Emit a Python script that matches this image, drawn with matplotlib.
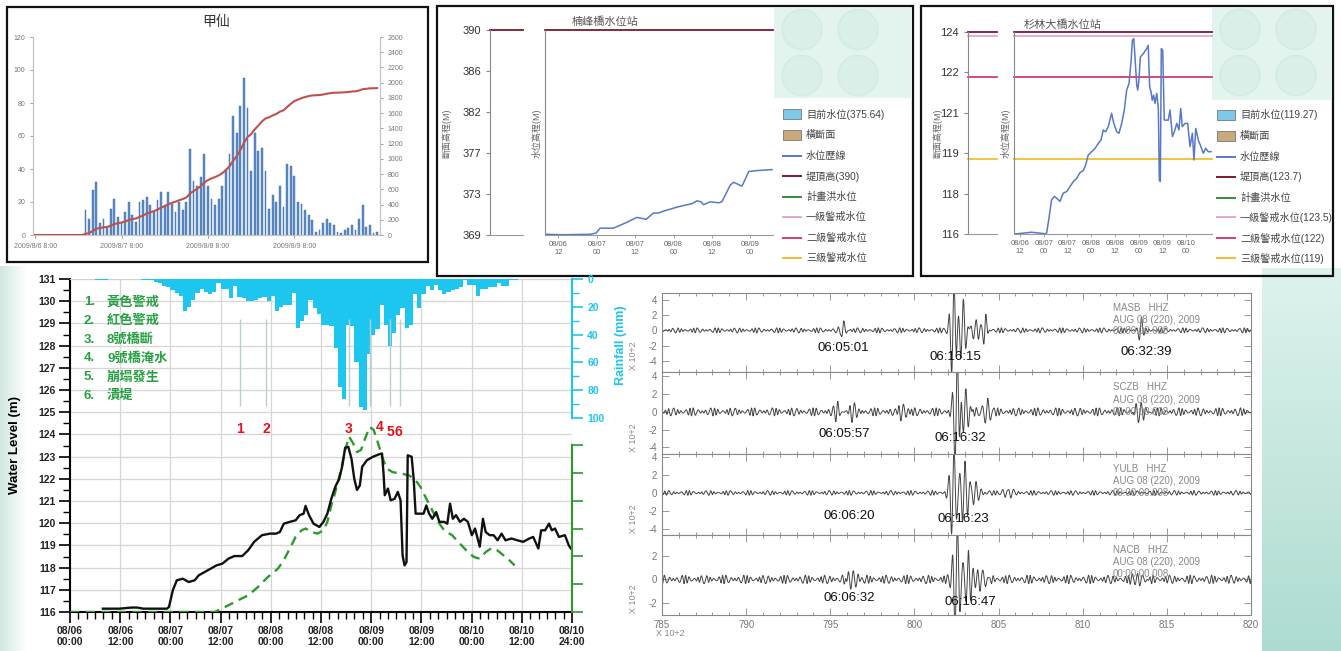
import numpy as np
import matplotlib
matplotlib.use('Agg')
import matplotlib.pyplot as plt
from matplotlib.patches import Rectangle, Circle
from matplotlib.ticker import MultipleLocator, FixedLocator

plt.rcParams['font.family'] = ['Liberation Sans', 'Noto Sans CJK TC', 'DejaVu Sans']
plt.rcParams['axes.unicode_minus'] = False

# ---------------- DATA ----------------
# Panel A: 甲仙 hourly rainfall (mm), hours from 2009/8/6 8:00
jiaxian_rain = [0, 0, 0, 0, 0, 0, 0, 0, 0, 0, 0, 0, 0, 0,
                15, 10, 27, 32, 7, 10, 5, 16, 22, 11,
                8, 14, 20, 12, 8, 20, 21, 23, 18, 14,
                21, 26, 18, 26, 19, 14, 20, 15, 20, 52,
                33, 30, 35, 49, 30, 22, 18, 22, 30, 40,
                49, 72, 62, 78, 95, 77, 39, 62, 51, 53,
                39, 16, 24, 20, 30, 17, 43, 42, 36, 20,
                19, 15, 12, 9, 2, 3, 7, 10, 7, 6,
                2, 1, 3, 4, 6, 3, 10, 18, 5, 6, 1, 2]
jiaxian_tick_pos = [0, 24, 48, 72]
jiaxian_tick_labels = ['2009/8/6 8:00', '2009/8/7 8:00', '2009/8/8 8:00', '2009/8/9 8:00']

# Panel B: 楠峰橋水位站 (hours from 08/06 00:00)
nanfeng_h = [7.8, 13.6, 21.9, 23.8, 25.0, 29.2, 31.3, 33.4, 36.5, 38.1, 39.4, 41.7, 43.3, 44.9,
             47.0, 49.0, 52.2, 53.7, 55.3, 56.6, 57.4, 59.5, 62.1, 63.1, 64.2, 65.7, 66.8, 67.8,
             69.4, 70.4, 71.5, 74.1, 78.8]
nanfeng_lv = [369.07, 369.03, 369.07, 369.2, 369.7, 369.7, 370.0, 370.3, 370.8, 370.7, 370.6,
              371.25, 371.25, 371.45, 371.65, 371.85, 372.1, 372.2, 372.5, 372.4, 372.1, 372.4,
              372.3, 372.4, 373.1, 374.1, 374.4, 374.25, 374.0, 374.7, 375.5, 375.6, 375.7]
nanfeng_ylabels = ['369', '373', '377', '382', '386', '390']
nanfeng_dike = 390.0
nanfeng_legend = [('目前水位(375.64)', 'patch', '#7ec8ea'), ('橫斷面', 'patch', '#c9a97c'),
                  ('水位歷線', 'line', '#5a78c8'), ('堤頂高(390)', 'line', '#7a1a2a'),
                  ('計畫洪水位', 'line', '#3a8a3a'), ('一級警戒水位', 'line', '#e4a6d6'),
                  ('二級警戒水位', 'line', '#d63c6a'), ('三級警戒水位', 'line', '#f0c030')]

# Panel C: 杉林大橋水位站
shanlin_h = [9.5, 17.9, 24.7, 25.5, 26.8, 28.0, 29.4, 31.1, 32.2, 33.9,
             35.6, 37.3, 39.0, 40.7, 42.3, 44.0, 45.2, 46.5, 48.2, 49.9,
             51.6, 52.9, 54.1, 55.3, 56.6, 58.3, 59.4, 60.9, 62.0, 63.4,
             64.7, 65.9, 67.1, 68.1, 68.8, 69.5, 70.1, 71.0, 71.5, 72.1,
             72.8, 74.3, 76.0, 76.8, 77.5, 78.2, 78.8, 79.5, 80.2, 81.1,
             81.9, 82.4, 82.9, 83.4, 84.1, 84.9, 86.1, 86.9, 87.8, 89.0,
             90.0, 91.2, 92.3, 93.2, 94.0, 95.4, 96.7, 97.9, 99.1, 99.9,
             100.8, 102.1, 103.4, 104.6, 105.8, 107.1, 108.5]
shanlin_lv = [116.0, 116.07, 116.01, 116.04, 116.70, 117.36, 117.49, 117.38, 117.29, 117.62,
              117.68, 117.88, 118.08, 118.21, 118.43, 118.51, 118.74, 119.13, 119.26, 119.39,
              119.59, 119.72, 120.12, 120.05, 120.25, 120.78, 120.38, 120.05, 119.99, 120.38,
              120.91, 121.70, 121.96, 122.82, 123.67, 123.74, 123.01, 121.89, 121.70, 122.09,
              123.01, 123.14, 123.34, 123.47, 121.83, 121.63, 121.30, 121.50, 121.17, 121.57,
              120.97, 118.14, 118.08, 123.34, 123.28, 120.51, 120.51, 120.51, 120.91, 119.86,
              120.05, 120.38, 120.12, 120.97, 120.25, 120.38, 120.38, 119.46, 119.99, 118.93,
              120.18, 119.72, 119.46, 119.20, 119.39, 119.26, 119.26]
shanlin_ylabels = ['116', '118', '119', '121', '122', '124']
shanlin_levels = [124.0, 123.83, 122.2, 118.99]
shanlin_level_colors = ['#7a1a2a', '#e4a6d6', '#d63c6a', '#f0c030']
shanlin_legend = [('目前水位(119.27)', 'patch', '#7ec8ea'), ('橫斷面', 'patch', '#c9a97c'),
                  ('水位歷線', 'line', '#5a78c8'), ('堤頂高(123.7)', 'line', '#7a1a2a'),
                  ('計畫洪水位', 'line', '#3a8a3a'), ('一級警戒水位(123.5)', 'line', '#e4a6d6'),
                  ('二級警戒水位(122)', 'line', '#d63c6a'), ('三級警戒水位(119)', 'line', '#f0c030')]

station_ticks = [12, 24, 36, 48, 60, 72, 84, 96]
station_ticklabels = ['08/06\n12', '08/07\n00', '08/07\n12', '08/08\n00', '08/08\n12',
                      '08/09\n00', '08/09\n12', '08/10\n00']

# Panel D: water level (m) hours from 08/06 00:00
obs_h = [7.86, 11.83, 14.67, 16.09, 17.51, 23.19, 23.66, 24.61, 25.55, 26.97,
         28.39, 29.81, 30.76, 32.18, 33.6, 35.02, 36.44, 37.86, 39.28, 41.17,
         42.59, 44.01, 45.9, 47.79, 49.21, 50.16, 51.11, 52.53, 53.94, 54.89,
         55.84, 56.31, 57.07, 58.2, 59.62, 60.57, 61.52, 62.46, 63.41, 64.36,
         65.11, 65.77, 66.53, 67.29, 67.95, 68.61, 69.28, 69.84, 70.98, 72.4,
         73.82, 74.58, 74.95, 75.24, 76.0, 76.66, 77.6, 78.36, 79.02, 79.5,
         79.97, 80.44, 80.73, 81.67, 82.15, 82.62, 83.76, 84.51, 85.18, 85.84,
         86.6, 87.54, 88.3, 89.43, 90.19, 90.85, 91.52, 92.27, 93.22, 94.17,
         95.11, 96.06, 96.82, 97.95, 98.71, 99.37, 100.32, 101.26, 102.21, 103.16,
         104.1, 105.52, 106.94, 108.36, 109.78, 110.73, 111.96, 112.62, 113.57, 114.51,
         115.18, 115.93, 116.88, 118.3, 119.24, 119.72]
obs_lv = [116.15, 116.15, 116.2, 116.2, 116.15, 116.15, 116.23, 117.0, 117.43, 117.5,
          117.35, 117.43, 117.65, 117.8, 117.95, 118.1, 118.18, 118.4, 118.52, 118.52,
          118.78, 119.16, 119.46, 119.53, 119.53, 119.6, 119.98, 120.06, 120.13, 120.36,
          120.43, 120.78, 120.39, 119.98, 119.83, 120.06, 120.43, 121.1, 121.64, 122.0,
          122.6, 123.4, 123.44, 122.9, 122.0, 121.5, 121.7, 122.54, 122.84, 122.99,
          123.1, 123.14, 122.24, 121.26, 121.56, 121.03, 121.1, 121.41, 121.03, 118.55,
          118.1, 118.25, 123.06, 122.99, 122.0, 120.43, 120.43, 120.43, 120.8, 120.43,
          120.2, 120.5, 120.06, 120.06, 119.98, 120.88, 120.2, 120.36, 120.06, 120.2,
          120.06, 119.46, 119.76, 118.94, 120.2, 119.6, 119.46, 119.46, 119.23, 119.53,
          119.23, 119.31, 119.23, 119.16, 119.31, 119.38, 118.86, 119.68, 119.68, 119.98,
          119.68, 119.76, 119.38, 119.46, 119.0, 118.86]
sim_h = [0, 34.54, 35.49, 37.86, 40.22, 42.59, 44.95, 47.32, 49.69, 51.11,
         52.53, 53.94, 55.36, 56.31, 57.73, 59.15, 60.57, 61.52, 62.46, 63.41,
         64.64, 65.77, 66.72, 67.67, 68.61, 69.56, 70.51, 71.64, 72.59, 73.54,
         74.48, 75.71, 77.13, 79.02, 80.92, 82.34, 83.76, 85.18, 86.6, 88.02,
         89.43, 91.33, 93.22, 95.11, 96.53, 97.95, 99.37, 100.79, 102.21, 103.63,
         105.05, 106.28]
sim_lv = [116.0, 116.0, 116.08, 116.3, 116.53, 116.75, 117.13, 117.58, 117.95, 118.33,
          118.86, 119.38, 119.68, 119.76, 119.6, 119.53, 119.68, 120.06, 120.8, 121.4,
          122.3, 123.3, 123.9, 123.6, 123.2, 123.3, 123.8, 124.34, 124.2, 123.67,
          123.06, 122.46, 122.3, 122.24, 122.16, 122.0, 121.64, 121.1, 120.58, 120.06,
          119.68, 119.46, 119.08, 118.7, 118.48, 118.4, 118.7, 118.88, 118.77, 118.55,
          118.33, 118.1]
# hourly rainfall (mm), hour 0 .. 106
hourly_rain = [0, 0, 0, 0, 0, 0, 1, 1, 1, 0, 0, 0, 0, 0, 0, 0, 0, 1, 1, 1, 2, 3, 5, 6,
               8, 10, 12, 23, 20, 15, 10, 7, 9, 11, 9, 3, 7, 7, 14, 5, 13, 14, 16, 16,
               15, 14, 13, 16, 12, 23, 20, 19, 19, 10, 35, 30, 26, 15, 21, 25, 33, 33, 34, 50,
               78, 86, 33, 34, 60, 92, 94, 54, 40, 36, 19, 33, 48, 39, 26, 21, 35, 33, 11, 21,
               11, 5, 8, 4, 8, 11, 9, 8, 7, 6, 1, 4, 4, 12, 7, 7, 6, 6, 3, 5, 5, 1, 1]
event_h = [40.7, 46.8, 66.8, 71.8, 76.5, 79.0]
event_label_h = [40.6, 46.9, 66.7, 73.9, 76.6, 78.6]
event_labels = ['1', '2', '3', '4', '5', '6']
event_names = ['黃色警戒', '紅色警戒', '8號橋斷', '9號橋淹水', '崩塌發生', '潰堤']
d_ticklabels = ['08/06\n00:00', '08/06\n12:00', '08/07\n00:00', '08/07\n12:00', '08/08\n00:00',
                '08/08\n12:00', '08/09\n00:00', '08/09\n12:00', '08/10\n00:00', '08/10\n12:00',
                '08/10\n24:00']

# Panel E: seismograms (x in units of 10^2 s)
seis_names = ['MASB', 'SCZB', 'YULB', 'NACB']
seis_ylim = [(-5.5, 5.0), (-4.7, 4.5), (-4.7, 4.4), (-3.0, 3.75)]
seis_yticks = [[-4, -2, 0, 2, 4], [-4, -2, 0, 2, 4], [-4, -2, 0, 2, 4], [-2, 0, 2]]
seis_noise = [0.28, 0.38, 0.22, 0.3]
# wave packets: (center, amplitude, half-width)
seis_packets = [
    [(795.75, 1.4, 0.18), (802.3, 7.0, 0.22), (802.85, 4.5, 0.25), (803.6, 1.4, 0.3),
     (804.2, 2.2, 0.14), (813.45, 1.7, 0.15)],
    [(795.4, 0.9, 0.25), (796.4, 1.3, 0.22), (799.3, 0.9, 0.3), (802.5, 7.0, 0.22),
     (803.0, 2.8, 0.3), (804.3, 1.6, 0.25), (813.4, 0.9, 0.4)],
    [(802.3, 5.5, 0.25), (802.95, 3.5, 0.3), (803.6, 1.2, 0.35), (805.5, 0.5, 0.4)],
    [(796.3, 0.8, 0.4), (802.5, 5.0, 0.25), (803.15, 2.2, 0.35), (804.0, 1.0, 0.45),
     (813.5, 0.5, 0.5)],
]
seis_picks = [
    [(795.8, -2.3, '06:05:01'), (802.45, -3.5, '06:16:15'), (813.75, -2.8, '06:32:39')],
    [(795.85, -2.5, '06:05:57'), (802.75, -3.0, '06:16:32')],
    [(796.1, -2.6, '06:06:20'), (802.9, -2.9, '06:16:23')],
    [(796.1, -1.6, '06:06:32'), (803.3, -1.9, '06:16:47')],
]

# ---------------- FIGURE ----------------
W, H = 1341, 651
fig = plt.figure(figsize=(W / 100, H / 100), dpi=100)


def ax_px(x0, y0, x1, y1):
    return fig.add_axes([x0 / W, 1 - y1 / H, (x1 - x0) / W, (y1 - y0) / H])


def ftext(x, y, s, **kw):
    return fig.text(x / W, 1 - y / H, s, **kw)


# background
bg = ax_px(0, 0, W, H)
bg.set_zorder(-10)
bg.set_axis_off()
img = np.ones((H, W, 3))
yy, xx = np.mgrid[0:H, 0:W]
m = (xx >= 1262) & (yy >= 268)
f = np.clip((yy[m] - 268) / 383.0, 0, 1)[:, None]
top_c = np.array([0.87, 0.95, 0.93])
bot_c = np.array([0.68, 0.86, 0.82])
img[m] = top_c * (1 - f) + bot_c * f
m2 = (xx < 26) & (yy >= 266)
g = (xx[m2] / 26.0)[:, None]
img[m2] = np.array([0.82, 0.91, 0.88]) * (1 - g) + g
bg.imshow(img, extent=(0, W, H, 0), aspect='auto', interpolation='bilinear')
bg.set_xlim(0, W)
bg.set_ylim(H, 0)
bg.set_autoscale_on(False)

# frames
for (x0, y0, x1, y1) in [(7, 7, 428, 262), (437, 6, 913, 276), (921, 6, 1333, 276)]:
    bg.add_patch(Rectangle((x0, y0), x1 - x0, y1 - y0, fill=False, ec='#111', lw=1.6))
# mint boxes
for (x0, y0, x1, y1) in [(774, 7.5, 912, 98), (1212, 7.5, 1332, 100)]:
    bg.add_patch(Rectangle((x0, y0), x1 - x0, y1 - y0, fc='#e3f4ee', ec='none'))
    for cx in np.arange(x0 + 28, x1, 56):
        for cy in [y0 + 22, y0 + 68]:
            bg.add_patch(Circle((cx, cy), 20, fc='#d9efe7', ec='#d2ebe2', lw=1))


def draw_legend(x0, rows_y, items):
    for (label, kind, color), y in zip(items, rows_y):
        if kind == 'patch':
            bg.add_patch(Rectangle((x0, y - 5), 18, 10, fc=color, ec='#777', lw=0.6))
        else:
            bg.plot([x0, x0 + 18], [y, y], color=color, lw=1.4)
        bg.text(x0 + 23, y, label, fontsize=7.3, color='#444', va='center', ha='left')


draw_legend(783, [114, 135, 156, 176, 197, 217, 238, 258], nanfeng_legend)
draw_legend(1217, [115, 136, 157, 177, 198, 217, 238, 258], shanlin_legend)

# ---------------- Panel A ----------------
axA = ax_px(33, 37, 380, 235)
xA = np.arange(len(jiaxian_rain))
axA.bar(xA, jiaxian_rain, width=0.5, color='#5b8ccb', edgecolor='#3d6aa3', linewidth=0.3, zorder=2)
axA.set_yticks(np.arange(0, 121, 20))
axA.set_xticks(jiaxian_tick_pos)
axA.set_xticklabels(jiaxian_tick_labels)
axA.set_xlim(-0.6, 95.8)
axA.set_ylim(0, 120)
axA.spines['top'].set_visible(False)
for s in ['left', 'bottom', 'right']:
    axA.spines[s].set_color('#c4c4c4')
axA.tick_params(labelsize=5, colors='#777', length=2, width=0.5)
axA2 = axA.twinx()
axA2.plot(xA, np.cumsum(jiaxian_rain), color='#c0504d', lw=1.5, zorder=3)
axA2.set_ylim(0, 2600)
axA2.set_yticks(np.arange(0, 2601, 200))
axA2.tick_params(labelsize=5, colors='#777', length=2, width=0.5)
axA2.spines['top'].set_visible(False)
for s in ['left', 'bottom', 'right']:
    axA2.spines[s].set_color('#c4c4c4')
ftext(216, 22, '甲仙', fontsize=10, ha='center', va='center', color='#333')


# ---------------- Panels B, C ----------------
def station_left(box, ylim, labels, hl, hl_colors):
    a = ax_px(*box)
    a.set_yticks(np.linspace(ylim[0], ylim[1], 6))
    a.set_yticklabels(labels)
    a.set_xticks([])
    a.set_ylim(*ylim)
    a.set_xlim(0, 1)
    for s in ['top', 'right']:
        a.spines[s].set_visible(False)
    a.spines['left'].set_color('#888')
    a.spines['bottom'].set_color('#999')
    a.tick_params(axis='y', labelsize=8, colors='#888', labelcolor='#333', length=3, width=0.8)
    for v, c in zip(hl, hl_colors):
        a.axhline(v, color=c, lw=1.3, clip_on=False)
    a.patch.set_alpha(0)
    return a


def station_main(box, ylim, xlim, t, v, hl, hl_colors):
    a = ax_px(*box)
    a.set_yticks([])
    a.set_xticks(station_ticks)
    a.set_xticklabels(station_ticklabels)
    for s in ['top', 'right']:
        a.spines[s].set_visible(False)
    a.spines['left'].set_color('#888')
    a.spines['bottom'].set_color('#999')
    a.tick_params(axis='x', labelsize=5.5, colors='#999', labelcolor='#666', length=2, width=0.6, pad=2)
    for lv, c in zip(hl, hl_colors):
        a.axhline(lv, color=c, lw=1.3, clip_on=False)
    a.plot(t, v, color='#5a78c8', lw=1.1)
    a.set_ylim(*ylim)
    a.set_xlim(*xlim)
    a.patch.set_alpha(0)
    return a


station_left((490, 30, 523, 235), (369, 390), nanfeng_ylabels, [nanfeng_dike], ['#7a1a2a'])
station_main((545, 30, 773, 235), (369, 390), (7.8, 79.1), nanfeng_h, nanfeng_lv,
             [nanfeng_dike], ['#7a1a2a'])
ftext(446, 133, '斷面高程(M)', rotation=90, fontsize=6.5, color='#666', ha='center', va='center')
ftext(537, 133, '水位高程(M)', rotation=90, fontsize=6.5, color='#666', ha='center', va='center')
ftext(605, 22, '楠峰橋水位站', fontsize=8, color='#555', ha='center', va='center')

station_left((968, 32, 997, 234), (116, 124), shanlin_ylabels, shanlin_levels, shanlin_level_colors)
station_main((1014, 32, 1212, 234), (116, 124), (9.0, 109.0), shanlin_h, shanlin_lv,
             shanlin_levels, shanlin_level_colors)
ftext(937, 133, '斷面高程(M)', rotation=90, fontsize=6.5, color='#666', ha='center', va='center')
ftext(1006, 133, '水位高程(M)', rotation=90, fontsize=6.5, color='#666', ha='center', va='center')
ftext(1063, 25, '杉林大橋水位站', fontsize=8, color='#555', ha='center', va='center')

# ---------------- Panel D ----------------
cyan = '#1cc6ef'
green = '#2e9a2e'
axD = ax_px(70, 279, 572, 612)
axD.set_xticks(np.arange(0, 121, 12))
axD.set_xticklabels(d_ticklabels)
axD.xaxis.set_minor_locator(MultipleLocator(2))
axD.set_yticks(np.arange(116, 132, 1))
axD.yaxis.set_minor_locator(MultipleLocator(0.5))
axD.set_xlim(0, 120)
axD.set_ylim(116, 131)
axD.grid(True, which='major', color='#d6d6d6', lw=0.9)
axD.set_axisbelow(True)
axD.tick_params(which='major', length=8, width=1.2, labelsize=7.5, pad=2)
axD.tick_params(which='minor', length=5, width=1.0)
for lab in axD.get_xticklabels() + axD.get_yticklabels():
    lab.set_fontweight('bold')
    lab.set_color('#222')
axD.spines['right'].set_visible(False)
axD.spines['top'].set_color('#cfcfcf')
axD.spines['left'].set_linewidth(1.5)
axD.spines['bottom'].set_linewidth(1.5)
axD.plot(sim_h, sim_lv, color=green, lw=1.7, ls=(0, (4, 2.6)), zorder=3)
axD.plot(obs_h, obs_lv, color='#111', lw=1.7, zorder=4)
for hx, lab in zip(event_label_h, event_labels):
    yv = 124.25 if lab in ('1', '2', '3') else (124.35 if lab == '4' else 124.1)
    axD.text(hx, yv, lab, color='#e8101a', fontsize=10, fontweight='bold', ha='center', va='center')

axR = axD.twinx()
axR.bar(np.arange(len(hourly_rain)) + 0.5, hourly_rain, width=1.0, color=cyan, lw=0, zorder=1)
axR.vlines(event_h, 125.3, 129.2, transform=axD.transData, color='#b9cfcf', lw=1.0, zorder=2)
axR.set_yticks(np.arange(0, 101, 20))
axR.yaxis.set_minor_locator(FixedLocator(np.arange(10, 100, 20)))
axR.set_ylim(239.6, 0)
axR.set_xlim(0, 120)
for s in ['top', 'left', 'bottom']:
    axR.spines[s].set_visible(False)
axR.spines['right'].set_color(cyan)
axR.spines['right'].set_linewidth(1.5)
axR.spines['right'].set_bounds(0, 100)
axR.tick_params(axis='y', which='major', colors=cyan, length=8, width=1.2, labelsize=7.5, pad=3)
axR.tick_params(axis='y', which='minor', colors=cyan, length=5, width=1.0)
for lab in axR.get_yticklabels():
    lab.set_fontweight('bold')

axG = axD.twinx()
axG.set_yticks(np.linspace(0, 0.501, 7))
axG.set_yticklabels([])
axG.set_ylim(0, 1)
for s in ['top', 'left', 'bottom']:
    axG.spines[s].set_visible(False)
axG.spines['right'].set_color(green)
axG.spines['right'].set_linewidth(1.5)
axG.spines['right'].set_bounds(0, 0.501)
axG.tick_params(axis='y', colors=green, length=8, width=1.2)

ftext(15, 445, 'Water Level (m)', rotation=90, fontsize=9.5, fontweight='bold', ha='center', va='center')
ftext(621, 345, 'Rainfall (mm)', rotation=90, fontsize=9, fontweight='bold', color=cyan,
      ha='center', va='center')
for i, name in enumerate(event_names):
    y = 302 + i * 18.8
    ftext(84, y, f'{i + 1}.', fontsize=9.5, fontweight='bold', color='#27a043', ha='left', va='center')
    ftext(107, y, name, fontsize=9.5, fontweight='bold', color='#27a043', ha='left', va='center')

# ---------------- Panel E ----------------
tops = [292.5, 372, 453.5, 535, 615]
x = np.linspace(785, 820, 4200)
for i in range(4):
    a = ax_px(662, tops[i], 1251, tops[i + 1])
    n = seis_noise[i]
    ph = 1.3 * i
    trace = n * (0.75 + 0.45 * np.sin(2 * np.pi * 0.83 * x + ph)) * np.sin(
        2 * np.pi * 4.1 * x + 1.1 * np.sin(2 * np.pi * 1.37 * x + ph))
    for c, amp, w in seis_packets[i]:
        trace = trace + amp * np.exp(-((x - c) / w) ** 2) * np.sin(2 * np.pi * 3.2 * (x - c) + 0.4)
    a.plot(x, trace, color='#444', lw=0.7)
    a.set_yticks(seis_yticks[i])
    a.xaxis.set_major_locator(MultipleLocator(5))
    a.xaxis.set_minor_locator(MultipleLocator(1))
    a.set_xlim(785, 820)
    a.set_ylim(*seis_ylim[i])
    a.tick_params(which='both', direction='in', top=True, right=True, colors='#888',
                  labelcolor='#777', labelsize=7, width=0.6)
    a.tick_params(which='major', length=5)
    a.tick_params(which='minor', length=2.5)
    for s in a.spines.values():
        s.set_color('#888')
        s.set_linewidth(0.8)
    if i < 3:
        a.set_xticklabels([])
    a.text(-0.048, 0.2, 'X 10+2', transform=a.transAxes, rotation=90, fontsize=6.5,
           color='#888', ha='center', va='center')
    a.text(0.765, 0.81, f'{seis_names[i]}   HHZ', transform=a.transAxes, fontsize=7, color='#888',
           ha='left', va='center')
    a.text(0.765, 0.66, 'AUG 08 (220), 2009', transform=a.transAxes, fontsize=7, color='#888',
           ha='left', va='center')
    a.text(0.765, 0.51, '00:00:00.008', transform=a.transAxes, fontsize=7, color='#888',
           ha='left', va='center')
    for px, py, lab in seis_picks[i]:
        a.text(px, py, lab, fontsize=9.5, color='#111', ha='center', va='center')
ftext(670, 634, 'X 10+2', fontsize=6.5, color='#888', ha='center', va='center')

fig.savefig('out.png', dpi=100)
